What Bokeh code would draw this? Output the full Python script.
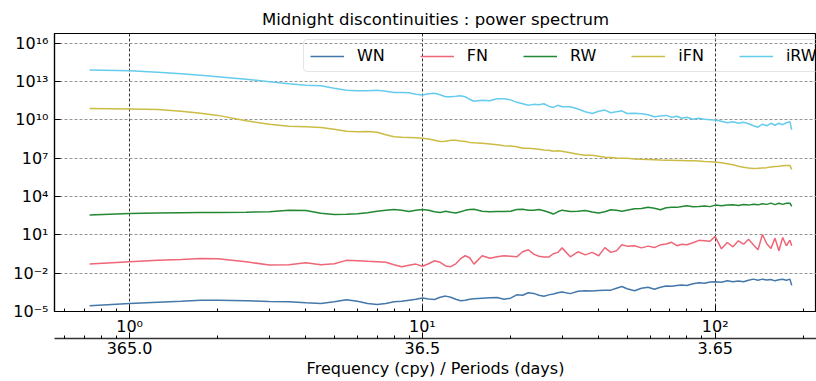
from bokeh.plotting import figure
from bokeh.models import LogAxis, FixedTicker, CustomJSTickFormatter, Range1d
from bokeh.embed import file_html
from bokeh.resources import INLINE

# ---------------- data ----------------
freq = [0.73, 1.0, 1.25, 1.5, 1.75, 2.0, 2.5, 3.0, 3.5, 4.0, 4.5, 5.0, 5.5, 6.0, 6.5,
        7.0, 7.5, 8.0, 8.5, 9.0, 9.5, 10.0, 10.5, 11.0, 11.5, 12.0, 12.5, 13.0, 13.5,
        14.0, 14.5, 15.0, 16, 17, 18, 19, 20, 21, 22, 23, 24, 25, 26, 27, 28, 29, 30,
        32, 34, 36, 38, 40, 42, 44, 46, 48, 50, 53, 56, 59, 62, 65, 68, 71, 74, 77, 80,
        84, 88, 92, 96, 100, 105, 110, 115, 120, 125, 130, 135, 140, 145, 150, 155,
        160, 165, 170, 175, 180, 182.5]

WN = [2.8e-5, 4.2e-5, 5.2e-5, 6.3e-5, 7.6e-5, 7.7e-5, 6.9e-5, 6.1e-5, 5.7e-5, 4.8e-5,
      4.2e-5, 5.7e-5, 8.2e-5, 6.3e-5, 4.2e-5, 3.6e-5, 4.3e-5, 5.7e-5, 6.3e-5, 7.6e-5,
      9.0e-5, 1.12e-4, 9.4e-5, 8.7e-5, 1.3e-4, 1.6e-4, 1.3e-4, 9.0e-5, 6.9e-5, 7.6e-5,
      9.0e-5, 1.0e-4, 1.1e-4, 1.2e-4, 1.24e-4, 9.0e-5, 1.1e-4, 2.0e-4, 1.85e-4, 2.9e-4,
      2.6e-4, 1.85e-4, 1.55e-4, 2.0e-4, 2.3e-4, 2.9e-4, 3.4e-4, 2.5e-4, 3.8e-4, 4.2e-4,
      4.0e-4, 4.4e-4, 4.6e-4, 4.7e-4, 6.6e-4, 9.0e-4, 6.0e-4, 4.2e-4, 6.6e-4, 8.0e-4,
      5.5e-4, 8.0e-4, 9.7e-4, 9.4e-4, 1.1e-3, 1.2e-3, 1.1e-3, 1.5e-3, 1.75e-3, 1.6e-3,
      2.0e-3, 2.1e-3, 1.95e-3, 2.5e-3, 2.1e-3, 2.4e-3, 2.1e-3, 2.8e-3, 3.4e-3, 2.8e-3,
      3.4e-3, 2.9e-3, 3.2e-3, 2.5e-3, 3.0e-3, 3.3e-3, 2.8e-3, 3.4e-3, 1.1e-3]

FN = [5.1e-2, 7.8e-2, 0.10, 0.117, 0.14, 0.135, 7.8e-2, 4.3e-2, 4.5e-2, 6.5e-2,
      4.5e-2, 5.4e-2, 0.10, 0.095, 8.5e-2, 7.8e-2, 7.1e-2, 4.5e-2, 3.2e-2, 4.1e-2,
      5.1e-2, 3.5e-2, 5.4e-2, 9.3e-2, 7.1e-2, 3.7e-2, 3.2e-2, 5.4e-2, 0.135, 0.23,
      0.16, 5.1e-2, 0.23, 0.145, 0.19, 0.23, 0.21, 0.19, 0.47, 0.68,
      0.31, 0.21, 0.18, 0.18, 0.33, 0.42, 0.95, 0.19, 0.47, 0.27,
      0.42, 0.23, 1.0, 0.42, 0.56, 1.65, 1.3, 1.4, 0.95, 1.3,
      1.0, 1.65, 1.9, 2.6, 1.4, 1.85, 1.65, 2.4, 3.7, 3.4,
      3.1, 7.6, 0.8, 2.5, 1.15, 3.4, 1.85, 4.5, 1.65, 0.68,
      10.5, 2.0, 0.85, 5.5, 0.56, 6.1, 1.4, 3.8, 1.4]

RW = [3.5e2, 4.7e2, 5.0e2, 5.3e2, 5.5e2, 5.6e2, 5.8e2, 6.3e2, 8.5e2, 8.0e2,
      4.8e2, 3.9e2, 4.0e2, 4.5e2, 5.3e2, 6.9e2, 8.5e2, 9.5e2, 8.2e2, 6.6e2,
      8.2e2, 9.5e2, 8.2e2, 6.3e2, 5.6e2, 6.9e2, 5.8e2, 5.0e2, 6.3e2, 8.2e2,
      9.5e2, 9.8e2, 6.9e2, 6.3e2, 6.6e2, 6.6e2, 6.9e2, 9.5e2, 1.0e3, 8.5e2,
      8.5e2, 9.5e2, 7.6e2, 5.8e2, 4.2e2, 6.3e2, 8.5e2, 6.6e2, 7.0e2, 8.0e2,
      6.0e2, 5.0e2, 6.3e2, 9.0e2, 8.2e2, 7.0e2, 8.5e2, 1.1e3, 1.15e3, 1.45e3,
      1.2e3, 9.0e2, 1.3e3, 1.45e3, 1.4e3, 1.65e3, 1.9e3, 1.55e3, 1.65e3, 1.8e3,
      1.6e3, 2.1e3, 1.9e3, 2.1e3, 2.2e3, 2.0e3, 2.3e3, 2.1e3, 2.5e3, 2.2e3,
      2.7e3, 2.4e3, 3.0e3, 2.3e3, 2.9e3, 2.4e3, 2.9e3, 3.0e3, 1.65e3]

iFN = [7.6e10, 6.9e10, 6.3e10, 4.6e10, 3.2e10, 2.2e10, 8.3e9, 4.5e9, 3.1e9, 2.8e9,
       2.5e9, 1.8e9, 1.26e9, 1.15e9, 1.2e9, 1.05e9, 6.8e8, 4.7e8, 4.3e8, 4.1e8,
       3.9e8, 3.5e8, 3.1e8, 2.5e8, 2.0e8, 2.1e8, 2.5e8, 2.5e8, 2.2e8, 2.0e8,
       1.7e8, 1.6e8, 1.45e8, 1.26e8, 1.1e8, 9.2e7, 8.7e7, 7.7e7, 5.9e7, 5.9e7,
       5.4e7, 4.9e7, 4.3e7, 4.1e7, 3.4e7, 3.7e7, 3.4e7, 2.6e7, 2.0e7, 1.66e7,
       1.66e7, 1.4e7, 1.15e7, 1.12e7, 1.0e7, 9.7e6, 9.7e6, 8.5e6, 8.1e6, 7.8e6,
       7.4e6, 7.0e6, 6.8e6, 6.8e6, 6.5e6, 6.5e6, 6.2e6, 6.2e6, 5.9e6, 5.5e6,
       5.2e6, 4.9e6, 4.3e6, 3.6e6, 3.0e6, 2.3e6, 1.9e6, 1.66e6, 1.55e6, 1.6e6,
       1.7e6, 1.8e6, 2.0e6, 2.2e6, 2.3e6, 2.5e6, 2.6e6, 2.7e6, 1.3e6]

iRW = [7.7e13, 6.8e13, 5.2e13, 4.0e13, 3.0e13, 2.3e13, 1.5e13, 9.3e12, 6.6e12, 5.1e12,
       4.6e12, 2.9e12, 2.0e12, 1.9e12, 1.9e12, 2.0e12, 1.7e12, 1.35e12, 1.35e12, 1.3e12,
       9.8e11, 8.5e11, 1.07e12, 1.2e12, 9.0e11, 6.3e11, 6.3e11, 6.9e11, 7.6e11, 6.3e11,
       4.0e11, 2.8e11, 3.3e11, 3.1e11, 4.4e11, 4.4e11, 3.6e11, 2.3e11, 1.8e11, 1.35e11,
       1.6e11, 1.5e11, 1.8e11, 1.15e11, 9.2e10, 1.35e11, 1.05e11, 1.05e11, 6.9e10, 4.2e10,
       3.1e10, 4.6e10, 5.7e10, 3.5e10, 4.2e10, 5.0e10, 3.1e10, 3.2e10, 2.9e10, 2.5e10,
       1.7e10, 2.0e10, 2.2e10, 1.55e10, 1.9e10, 1.3e10, 1.55e10, 1.1e10, 1.3e10, 1.1e10,
       1.0e10, 9.4e9, 7.6e9, 5.8e9, 6.9e9, 5.3e9, 6.3e9, 4.9e9, 3.4e9, 2.6e9,
       4.5e9, 3.4e9, 5.3e9, 3.7e9, 5.3e9, 4.1e9, 5.8e9, 6.9e9, 1.65e9]

series_names = ["WN", "FN", "RW", "iFN", "iRW"]
series_values = [WN, FN, RW, iFN, iRW]
series_colors = ["#4477AA", "#EE6677", "#228833", "#CCBB44", "#66CCEE"]

freq_ticks = [1, 10, 100]
period_labels = ["365.0", "36.5", "3.65"]
freq_minor = [0.6, 0.7, 0.8, 0.9, 2, 3, 4, 5, 6, 7, 8, 9,
              20, 30, 40, 50, 60, 70, 80, 90, 200]
power_ticks = [1e-5, 1e-2, 1e1, 1e4, 1e7, 1e10, 1e13, 1e16]

FONT = "DejaVu Sans"

p = figure(width=816, height=381, x_axis_type="log", y_axis_type="log",
           x_range=Range1d(0.554, 221.8), y_range=Range1d(1e-5, 5.6e16),
           output_backend="svg", toolbar_location=None,
           title="Midnight discontinuities : power spectrum",
           min_border_left=54, min_border_right=0, min_border_top=33,
           min_border_bottom=70)

p.title.text_font = FONT
p.title.text_font_size = "16.5px"
p.title.text_font_style = "normal"
p.title.text_color = "black"
p.title.align = "center"
p.title.standoff = 10

p.outline_line_color = "black"
p.outline_line_width = 1.2
p.background_fill_color = "white"
p.border_fill_color = "white"

for name, vals, col in zip(series_names, series_values, series_colors):
    p.line(freq, vals, line_color=col, line_width=1.5, legend_label=name)

sup_code = """
const sup = {"-":"\\u207b","0":"\\u2070","1":"\\u00b9","2":"\\u00b2","3":"\\u00b3",
             "4":"\\u2074","5":"\\u2075","6":"\\u2076","7":"\\u2077","8":"\\u2078","9":"\\u2079"};
const e = Math.round(Math.log10(tick));
return "10" + String(e).split("").map(c => sup[c]).join("");
"""

# main x axis and y axis
xa = p.xaxis[0]
xa.ticker = FixedTicker(ticks=freq_ticks, minor_ticks=freq_minor)
xa.formatter = CustomJSTickFormatter(code=sup_code)
ya = p.yaxis[0]
ya.ticker = FixedTicker(ticks=power_ticks, minor_ticks=[])
ya.formatter = CustomJSTickFormatter(code=sup_code)

for ax in (xa, ya):
    ax.major_label_text_font = FONT
    ax.major_label_text_font_size = "16px"
    ax.major_label_text_color = "black"
    ax.axis_line_color = "black"
    ax.axis_line_width = 1.2
    ax.major_tick_line_color = "black"
    ax.minor_tick_line_color = "black"
    ax.major_tick_in = 6
    ax.major_tick_out = 0
    ax.minor_tick_in = 3
    ax.minor_tick_out = 0
xa.major_label_standoff = 5
ya.major_label_standoff = 6

# secondary axis (periods)
ax2 = LogAxis(ticker=FixedTicker(ticks=freq_ticks, minor_ticks=freq_minor),
              formatter=CustomJSTickFormatter(args=dict(tv=freq_ticks, lab=period_labels), code="""
const i = tv.findIndex(t => Math.abs(Math.log10(t) - Math.log10(tick)) < 1e-6);
return i >= 0 ? lab[i] : "";
"""),
              axis_label="Frequency (cpy) / Periods (days)")
ax2.major_label_text_font = FONT
ax2.major_label_text_font_size = "16px"
ax2.major_label_text_color = "black"
ax2.axis_label_text_font = FONT
ax2.axis_label_text_font_size = "16px"
ax2.axis_label_text_font_style = "normal"
ax2.axis_label_text_color = "black"
ax2.axis_label_standoff = 2
ax2.major_label_standoff = 3
ax2.axis_line_color = "#333333"
ax2.axis_line_width = 1.5
ax2.major_tick_line_color = "black"
ax2.minor_tick_line_color = "black"
ax2.major_tick_in = 6
ax2.major_tick_out = 0
ax2.minor_tick_in = 3
ax2.minor_tick_out = 0
p.add_layout(ax2, "below")

# grids
p.xgrid.grid_line_color = "black"
p.xgrid.grid_line_dash = "3 2"
p.xgrid.grid_line_width = 0.8
p.ygrid.grid_line_color = "#888888"
p.ygrid.grid_line_dash = "3 2"
p.ygrid.grid_line_width = 0.9

# legend
lg = p.legend[0]
lg.orientation = "horizontal"
lg.location = (249, 239)
lg.label_text_font = FONT
lg.label_text_font_size = "16px"
lg.label_text_color = "black"
lg.glyph_width = 34
lg.glyph_height = 16
lg.label_standoff = 13
lg.spacing = 35
lg.padding = 6
lg.margin = 0
lg.border_line_color = "#cccccc"
lg.border_line_width = 1
lg.border_radius = 4
lg.background_fill_alpha = 0.0

open("out.html", "w").write(file_html(p, INLINE))
